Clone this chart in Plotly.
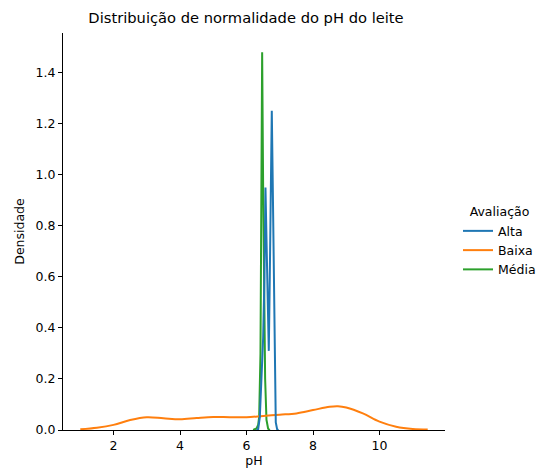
import plotly.graph_objects as go

# Density curves (pH vs density)
alta_ph = [6.30, 6.35, 6.40, 6.45, 6.50, 6.54, 6.57, 6.60, 6.64, 6.67, 6.70, 6.73, 6.76, 6.80, 6.84, 6.88, 6.92, 6.96]
alta_dens = [0.0, 0.003, 0.05, 0.22, 0.36, 0.60, 0.95, 0.75, 0.45, 0.31, 0.60, 0.95, 1.25, 0.85, 0.45, 0.03, 0.003, 0.0]

baixa_ph = [1.0, 1.5, 2.0, 2.5, 3.0, 3.5, 4.0, 4.5, 5.0, 5.5, 6.0, 6.5, 7.0, 7.5, 8.0, 8.5, 8.75, 9.0, 9.5, 10.0, 10.5, 11.0, 11.45]
baixa_dens = [0.003, 0.009, 0.02, 0.039, 0.05, 0.046, 0.042, 0.047, 0.051, 0.05, 0.05, 0.055, 0.06, 0.065, 0.078, 0.091, 0.093, 0.088, 0.065, 0.033, 0.013, 0.004, 0.002]

media_ph = [6.20, 6.25, 6.30, 6.35, 6.38, 6.42, 6.45, 6.47, 6.50, 6.53, 6.56, 6.60, 6.65, 6.70]
media_dens = [0.0, 0.002, 0.006, 0.02, 0.05, 0.30, 0.95, 1.48, 0.95, 0.50, 0.20, 0.04, 0.005, 0.0]

x_ticks = [2, 4, 6, 8, 10]
y_ticks = [0.0, 0.2, 0.4, 0.6, 0.8, 1.0, 1.2, 1.4]

FONT = "DejaVu Sans"
# plot area is 382 x 397 px; figure is wider than the window so the legend never
# pushes the margins (the page hides the overflow)
ML, MT, PW, PH = 63, 33, 382, 397
W, H = 620, 468

fig = go.Figure()
fig.add_trace(go.Scatter(x=media_ph, y=media_dens, mode="lines", name="Média",
                         line=dict(color="#2ca02c", width=2), legendrank=3))
fig.add_trace(go.Scatter(x=baixa_ph, y=baixa_dens, mode="lines", name="Baixa",
                         line=dict(color="#ff7f0e", width=2, shape="spline", smoothing=1.0), legendrank=2))
fig.add_trace(go.Scatter(x=alta_ph, y=alta_dens, mode="lines", name="Alta",
                         line=dict(color="#1f77b4", width=2), legendrank=1))

fig.update_layout(
    width=W, height=H,
    margin=dict(l=ML, r=W - ML - PW, t=MT, b=H - MT - PH),
    paper_bgcolor="white", plot_bgcolor="white",
    font=dict(family=FONT, size=12.5, color="#000000"),
    title=dict(text="Distribuição de normalidade do pH do leite",
               x=246 / W, xref="container", xanchor="center",
               y=1 - 18 / H, yref="container", yanchor="middle",
               font=dict(size=14.7)),
    legend=dict(
        title=dict(text="Avaliação", side="top center", font=dict(size=12.5)),
        x=(458 - ML) / PW, xref="paper", xanchor="left",
        y=1 - (200 - MT) / PH, yref="paper", yanchor="top",
        font=dict(size=12.5), bgcolor="rgba(0,0,0,0)", borderwidth=0,
        traceorder="normal",
    ),
    showlegend=True,
)
fig.update_xaxes(
    range=[0.48, 11.97], tickvals=x_ticks, ticktext=[str(v) for v in x_ticks],
    showgrid=False, zeroline=False, showline=True, linecolor="black", linewidth=1,
    ticks="outside", ticklen=4, tickcolor="black", tickwidth=1,
    tickfont=dict(size=12.5),
    title=dict(text="pH", standoff=3, font=dict(size=12.5)), automargin=False,
)
fig.update_yaxes(
    range=[0, 1.555], tickvals=y_ticks, tickformat=".1f",
    showgrid=False, zeroline=False, showline=True, linecolor="black", linewidth=1,
    ticks="outside", ticklen=4, tickcolor="black", tickwidth=1,
    tickfont=dict(size=12.5),
    title=dict(text="Densidade", standoff=8, font=dict(size=12.5)), automargin=False,
)

fig.write_html(
    "out.html",
    config={"displayModeBar": False},
    post_script="document.body.style.margin='0';document.body.style.overflow='hidden';",
)
